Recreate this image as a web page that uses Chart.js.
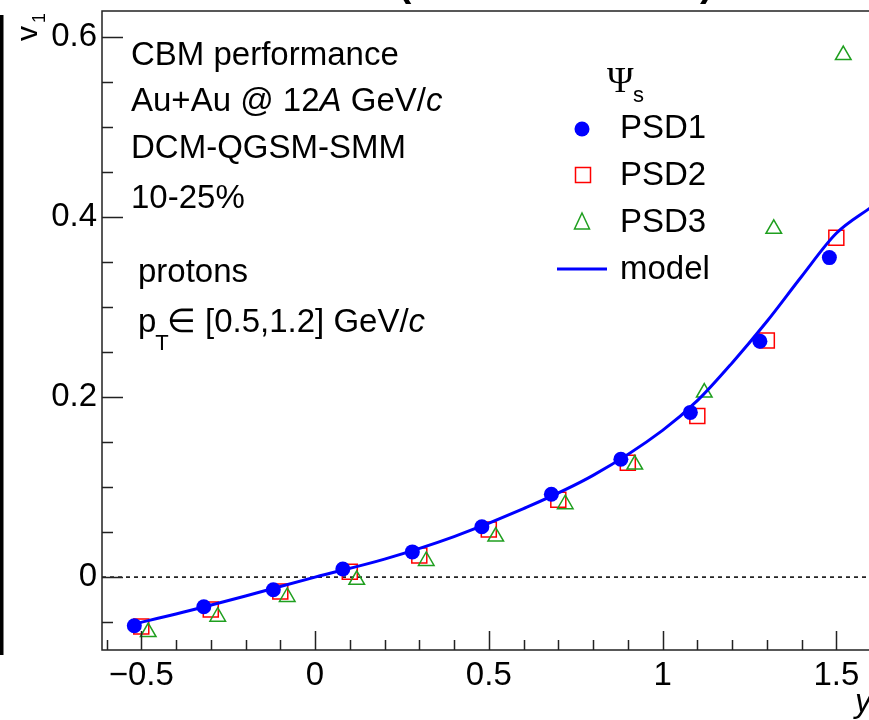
<!DOCTYPE html>
<html>
<head>
<meta charset="utf-8">
<script src="https://cdn.jsdelivr.net/npm/chart.js@4"></script>
<style>
  html, body { margin: 0; padding: 0; background: #fff; }
  #wrap { width: 869px; height: 720px; }
</style>
</head>
<body>
<div id="wrap"><canvas id="c" width="869" height="720"></canvas></div>
<script>
// rapidity positions (each set is shifted a bit so markers don't overlap)
const xPsd1 = [-0.52, -0.32, -0.12, 0.08, 0.28, 0.48, 0.68, 0.88, 1.08, 1.28, 1.48];
const xPsd2 = [-0.50, -0.30, -0.10, 0.10, 0.30, 0.50, 0.70, 0.90, 1.10, 1.30, 1.50];
const xPsd3 = [-0.48, -0.28, -0.08, 0.12, 0.32, 0.52, 0.72, 0.92, 1.12, 1.32, 1.52];

// v1 values
const v1Psd1 = [-0.054, -0.033, -0.014, 0.009, 0.028, 0.056, 0.092, 0.131, 0.183, 0.262, 0.355];
const v1Psd2 = [-0.055, -0.036, -0.016, 0.006, 0.024, 0.053, 0.086, 0.127, 0.179, 0.263, 0.377];
const v1Psd3 = [-0.061, -0.044, -0.022, -0.003, 0.018, 0.045, 0.081, 0.125, 0.205, 0.387, 0.580];

// model curve
const xModel  = [-0.52, -0.4, -0.2, 0.0, 0.2, 0.4, 0.6, 0.8, 1.0, 1.1, 1.2, 1.3, 1.4, 1.5, 1.6];
const v1Model = [-0.052, -0.041, -0.021, 0.0, 0.020, 0.045, 0.076, 0.113, 0.163, 0.196, 0.238, 0.284, 0.334, 0.382, 0.411];

const xTicks = [-0.5, 0, 0.5, 1, 1.5];
const yTicks = [0, 0.2, 0.4, 0.6];

const X_MIN = -0.613, X_MAX = 1.594;
const Y_MIN = -0.081, Y_MAX = 0.629;

const FONT = '"Liberation Sans", Arial, Helvetica, sans-serif';
const BLUE = '#0000ff', RED = '#ff0000', GREEN = '#1f9f1f';

function pts(xs, ys){
  return xs.map((x,i)=>({x, y: ys[i]}));
}

function fmt(v){
  if(v === 0) return '0';
  const s = String(v);
  return v < 0 ? '\u2212' + s.slice(1) : s;
}

// draw a line of text made of several font runs
function runs(ctx, x, y, parts){
  for(const p of parts){
    ctx.font = p.font;
    ctx.fillText(p.t, x, y + (p.dy||0));
    x += ctx.measureText(p.t).width + (p.gap||0);
  }
}

const frame = {
  id: 'frame',
  afterDraw(chart){
    const {ctx, chartArea: a, scales: {x, y}} = chart;
    ctx.save();
    ctx.strokeStyle = '#222';
    ctx.lineWidth = 1.5;

    // frame (right side is outside the picture)
    ctx.beginPath();
    ctx.moveTo(a.right + 2, a.top); ctx.lineTo(a.left, a.top);
    ctx.lineTo(a.left, a.bottom); ctx.lineTo(a.right + 2, a.bottom);
    ctx.stroke();

    // inward ticks, y
    ctx.beginPath();
    for(let v = -0.05; v <= Y_MAX + 1e-9; v += 0.05){
      const p = Math.round(y.getPixelForValue(v)) + 0.5;
      const major = Math.abs(v/0.2 - Math.round(v/0.2)) < 1e-6;
      ctx.moveTo(a.left, p); ctx.lineTo(a.left + (major ? 21 : 11), p);
    }
    // inward ticks, x
    for(let v = -0.6; v <= X_MAX + 1e-9; v += 0.1){
      const p = Math.round(x.getPixelForValue(v)) + 0.5;
      const major = Math.abs(v/0.5 - Math.round(v/0.5)) < 1e-6;
      ctx.moveTo(p, a.bottom); ctx.lineTo(p, a.bottom - (major ? 19 : 10));
    }
    ctx.stroke();

    ctx.fillStyle = '#000';
    ctx.textAlign = 'left';
    ctx.textBaseline = 'alphabetic';

    // left edge bar of neighbouring pad
    ctx.fillRect(0, 15, 3.5, 640);

    // bottom of the cut-off title
    ctx.font = `bold 40px ${FONT}`;
    ctx.fillText('(', 398, -4);
    ctx.fillText(')', 700, -4);

    // axis titles
    ctx.save();
    ctx.translate(37, 41);
    ctx.rotate(-Math.PI/2);
    ctx.font = `30px ${FONT}`;
    ctx.fillText('v', 0, 0);
    ctx.font = `18px ${FONT}`;
    ctx.fillText('1', 18, 8);
    ctx.restore();

    ctx.font = `italic 33px ${FONT}`;
    ctx.fillText('y', 855, 712);

    // info text
    const N = `33px ${FONT}`, I = `italic 33px ${FONT}`, S = `22px ${FONT}`;
    runs(ctx, 131, 65, [{t:'CBM performance', font:N}]);
    runs(ctx, 131, 111, [{t:'Au+Au @ 12', font:N}, {t:'A', font:I}, {t:' GeV/', font:N}, {t:'c', font:I}]);
    runs(ctx, 131, 158, [{t:'DCM-QGSM-SMM', font:N}]);
    runs(ctx, 131, 208, [{t:'10-25%', font:N}]);
    runs(ctx, 138, 282, [{t:'protons', font:N}]);
    runs(ctx, 138, 332, [{t:'p', font:N, gap:-1}, {t:'T', font:S, dy:18, gap:-2}, {t:'\u2208 [0.5,1.2] GeV/', font:N}, {t:'c', font:I}]);

    // legend
    ctx.font = `36px "Liberation Serif", "DejaVu Serif", serif`;
    ctx.fillText('\u03A8', 607, 92);
    ctx.font = `22px ${FONT}`;
    ctx.fillText('s', 633, 102);

    ctx.font = N;
    const labels = ['PSD1', 'PSD2', 'PSD3', 'model'];
    const rows = [138, 185, 232, 279];
    labels.forEach((t,i)=>ctx.fillText(t, 620, rows[i]));

    // legend symbols
    ctx.fillStyle = BLUE;
    ctx.beginPath(); ctx.arc(582, 129, 7.5, 0, Math.PI*2); ctx.fill();
    ctx.lineWidth = 1.5;
    ctx.strokeStyle = RED;
    ctx.strokeRect(575.5, 167.5, 15, 15);
    ctx.strokeStyle = GREEN;
    ctx.beginPath();
    ctx.moveTo(582, 213); ctx.lineTo(589.5, 229); ctx.lineTo(574.5, 229); ctx.closePath();
    ctx.stroke();
    ctx.strokeStyle = BLUE;
    ctx.lineWidth = 3;
    ctx.beginPath(); ctx.moveTo(557, 269); ctx.lineTo(607, 269); ctx.stroke();

    ctx.restore();
  }
};

new Chart(document.getElementById('c'), {
  type: 'scatter',
  data: {
    datasets: [
      {
        label: 'model', type: 'line', data: pts(xModel, v1Model),
        borderColor: BLUE, borderWidth: 3, pointRadius: 0, fill: false, cubicInterpolationMode: 'monotone', order: 0
      },
      {
        label: 'PSD1', data: pts(xPsd1, v1Psd1),
        pointStyle: 'circle', pointRadius: 7.5, backgroundColor: BLUE, borderColor: BLUE, borderWidth: 0, order: 1
      },
      {
        label: 'PSD3', data: pts(xPsd3, v1Psd3),
        pointStyle: 'triangle', pointRadius: 9, backgroundColor: 'rgba(0,0,0,0)', borderColor: GREEN, borderWidth: 1.5, order: 2
      },
      {
        label: 'PSD2', data: pts(xPsd2, v1Psd2),
        pointStyle: 'rect', pointRadius: 10.6, backgroundColor: 'rgba(0,0,0,0)', borderColor: RED, borderWidth: 1.5, order: 3
      },
      {
        label: 'zero', type: 'line', data: [{x: X_MIN, y: 0}, {x: X_MAX, y: 0}],
        borderColor: '#000', borderWidth: 1.5, borderDash: [4, 4], pointRadius: 0, order: 4
      }
    ]
  },
  options: {
    responsive: false,
    animation: false,
    layout: { autoPadding: false, padding: { top: 11, right: 0, left: 0, bottom: 0 } },
    plugins: { legend: { display: false }, tooltip: { enabled: false } },
    scales: {
      x: {
        type: 'linear', min: X_MIN, max: X_MAX,
        afterFit: (s)=>{ s.height = 70; s.paddingLeft = 0; s.paddingRight = 0; },
        afterBuildTicks: (s)=>{ s.ticks = xTicks.map(v=>({value: v})); },
        grid: { display: false, drawTicks: false },
        border: { display: false },
        ticks: { color: '#000', font: { family: FONT, size: 33 }, padding: 6, maxRotation: 0, autoSkip: false, callback: (v)=>fmt(v) }
      },
      y: {
        type: 'linear', min: Y_MIN, max: Y_MAX,
        afterFit: (s)=>{ s.width = 102; s.paddingTop = 0; s.paddingBottom = 0; },
        afterBuildTicks: (s)=>{ s.ticks = yTicks.map(v=>({value: v})); },
        grid: { display: false, drawTicks: false },
        border: { display: false },
        ticks: { color: '#000', font: { family: FONT, size: 33 }, padding: 5, autoSkip: false, callback: (v)=>fmt(v) }
      }
    }
  },
  plugins: [frame]
});
</script>
</body>
</html>
